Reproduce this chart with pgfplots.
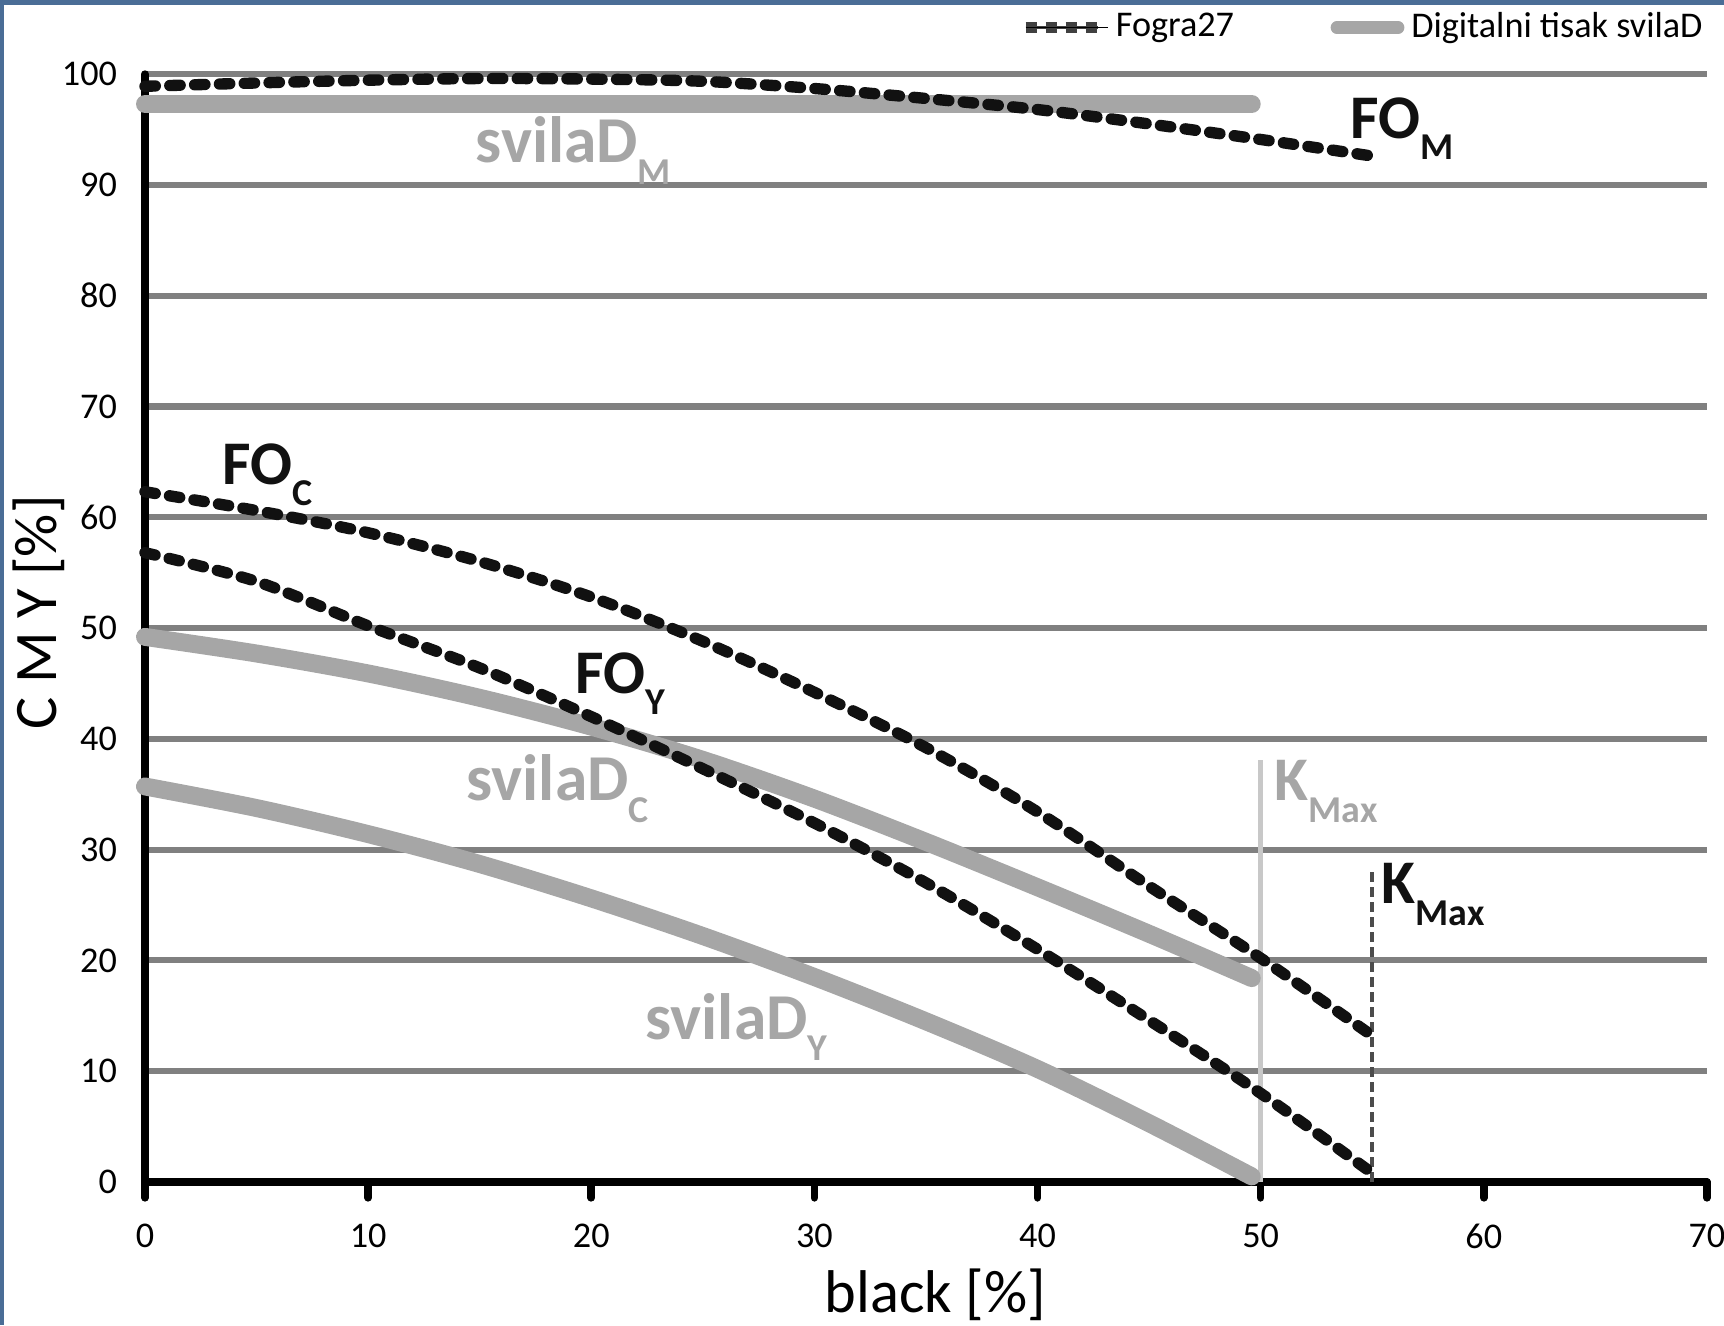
\documentclass[border=0pt]{standalone}
\usepackage{fontspec}
\setmainfont{Carlito}
\usepackage{pgfplots}
\pgfplotsset{compat=1.18}
\definecolor{frameblue}{HTML}{4A6D96}
\definecolor{gridgray}{HTML}{808080}
\definecolor{svila}{HTML}{A6A6A6}
\definecolor{kmaxgray}{HTML}{C8C8C8}
\definecolor{fogra}{HTML}{111111}

\begin{document}
\begin{tikzpicture}
\path[use as bounding box] (0,0) rectangle (500pt,384.3pt);
\fill[frameblue] (0,0) rectangle (1.1pt,384.3pt);
\fill[frameblue] (0,382.8pt) rectangle (500pt,384.3pt);
\begin{axis}[
  at={(42.05pt,41.5pt)}, anchor=south west,
  width=453pt, height=321.3pt, scale only axis,
  xmin=0, xmax=70, ymin=0, ymax=100,
  clip=false,
  axis x line=bottom, axis y line=left,
  axis line style={line width=2.2pt, line cap=round, -, black},
  xtick={0,10,...,70}, ytick={0,10,...,100},
  tick align=outside,
  major tick length=4.6pt,
  x tick style={line width=2.2pt, black, line cap=round},
  y tick style={draw=none},
  ymajorgrids, grid style={gridgray, line width=1.8pt},
  ticklabel style={font=\fontsize{10.5}{12}\selectfont},
  /pgf/number format/assume math mode=true,
  xticklabel style={yshift=-4pt},
  xlabel={black [\%]},
  xlabel style={at={(axis description cs:0.506,-0.102)}, anchor=center, font=\fontsize{17.5}{20}\selectfont},
  ylabel={C M Y [\%]},
  ylabel style={at={(axis description cs:-0.068,0.514)}, anchor=center, font=\fontsize{17.5}{20}\selectfont},
  legend columns=2,
  legend style={at={(axis description cs:0.560,1.042)}, anchor=west, draw=none, fill=none,
    font=\fontsize{10.5}{12}\selectfont, inner sep=0pt,
    nodes={inner sep=2pt},
    /tikz/every even column/.append style={column sep=26pt}},
]
\addlegendimage{legend image code/.code={
  \draw[line width=0.7pt, black!75] (0pt,0pt) -- (21pt,0pt);
  \draw[line width=3pt, black!75, dash pattern=on 3.4pt off 2.4pt] (0pt,0pt) -- (21pt,0pt);
  \path (0pt,0pt) -- (24pt,0pt);}}
\addlegendentry{Fogra27}
\addlegendimage{legend image code/.code={
  \draw[svila, line width=3.6pt, line cap=round] (1.8pt,0pt) -- (19.6pt,0pt);}}
\addlegendentry{Digitalni tisak svilaD}

% K max markers
\addplot[kmaxgray, line width=1.45pt, forget plot] coordinates {(50,0) (50,38.1)};
\addplot[black!70, line width=1.2pt, dash pattern=on 2.9pt off 1.45pt, forget plot] coordinates {(55,0) (55,28.4)};

% digitalni tisak svilaD
\pgfplotsset{svilaline/.style={svila, line width=5.2pt, line cap=round, line join=round, smooth, forget plot}}
\addplot[svilaline] coordinates {(0,97.3) (49.6,97.3)};
\addplot[svilaline] coordinates {
  (0,49.2) (5,47.7) (10,45.9) (15,43.7) (20,41.1) (25,38.1) (30,34.6) (35,30.7) (40,26.6) (45,22.4) (49.6,18.4)};
\addplot[svilaline] coordinates {
  (0,35.7) (5,33.75) (10,31.4) (15,28.7) (20,25.6) (25,22.2) (30,18.5) (35,14.5) (40,10.2) (45,5.3) (49.6,0.5)};

% Fogra27
\pgfplotsset{fograline/.style={fogra, line width=3.3pt, line cap=round, dash pattern=on 3.0pt off 4.2pt, smooth, forget plot}}
\addplot[fograline] coordinates {
  (0,98.9) (5,99.2) (10,99.45) (15,99.6) (20,99.55) (25,99.35) (30,98.7) (35,97.8) (40,96.8) (45,95.5) (50,94.1) (55,92.6)};
\addplot[fograline] coordinates {
  (0,62.3) (5,60.6) (10,58.6) (15,56.0) (20,52.8) (25,48.8) (30,44.2) (35,39.2) (40,33.4) (45,26.7) (50,20.2) (55,13.2)};
\addplot[fograline] coordinates {
  (0,56.8) (5,54.2) (10,50.2) (15,46.4) (20,42.0) (25,37.3) (30,32.4) (35,27.0) (40,21.0) (45,14.6) (50,8.0) (55,0.8)};

% labels
\tikzset{curvelab/.style={anchor=base west, inner sep=0pt, font=\fontsize{18}{20}\selectfont\bfseries},
  svilalab/.style={curvelab, font=\fontsize{19}{20}\selectfont\bfseries}}
\newcommand{\sub}[1]{\raisebox{-6.2pt}{\fontsize{11}{12}\selectfont #1}}
\node[curvelab, fogra] at (axis cs:54.0,94.2) {FO\sub{M}};
\node[svilalab, svila] at (axis cs:14.8,92.0) {svilaD\sub{M}};
\node[curvelab, fogra] at (axis cs:3.45,63.0) {FO\sub{C}};
\node[curvelab, fogra] at (axis cs:19.26,44.1) {FO\sub{Y}};
\node[svilalab, svila] at (axis cs:14.38,34.4) {svilaD\sub{C}};
\node[svilalab, svila] at (axis cs:22.4,12.9) {svilaD\sub{Y}};
\node[curvelab, svila] at (axis cs:50.6,34.4) {K\sub{Max}};
\node[curvelab, fogra] at (axis cs:55.4,25.1) {K\sub{Max}};
\end{axis}
\end{tikzpicture}
\end{document}
